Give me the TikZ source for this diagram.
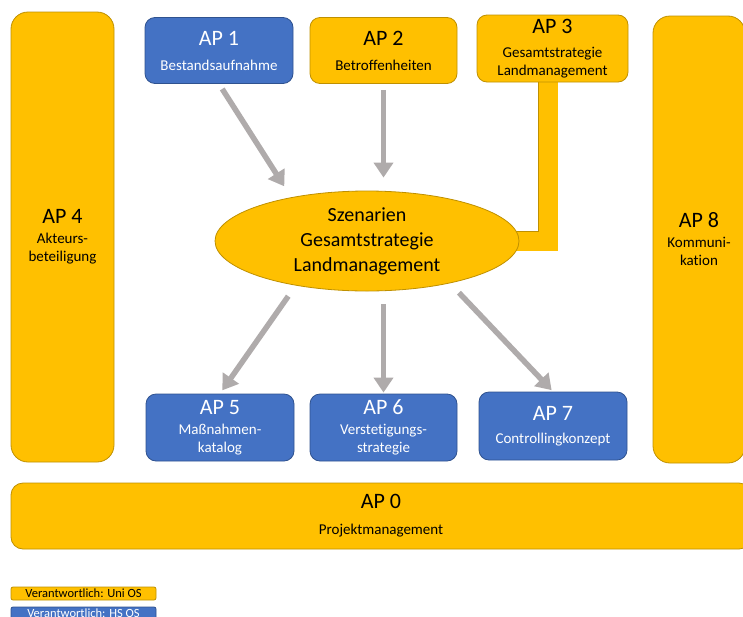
\documentclass[tikz,border=0pt]{standalone}
\usepackage{fontspec}
\setmainfont{Carlito}[Ligatures=NoCommon]
\usetikzlibrary{arrows.meta,shapes.geometric,backgrounds}
\definecolor{apgelb}{HTML}{FFC000}
\definecolor{apgelbrand}{HTML}{BF9000}
\definecolor{apblau}{HTML}{4472C4}
\definecolor{apblaurand}{HTML}{2F528F}
\definecolor{pfeilgrau}{HTML}{AFABAB}
\newcommand\apgross{\fontsize{22}{26}\selectfont}
\newcommand\apklein{\fontsize{15}{18}\selectfont}
\tikzset{
	ap/.style={rectangle, rounded corners=10pt, line width=0.8pt, align=center, inner sep=0pt, font=\apklein},
	uni/.style={ap, fill=apgelb, draw=apgelbrand, text=black},
	hs/.style={ap, fill=apblau, draw=apblaurand, text=white},
	pfeil/.style={draw=pfeilgrau, line width=5.5pt, -{Triangle[length=15pt,width=19pt]}},
}

\begin{document}
\begin{tikzpicture}[x=1pt,y=-1pt]
		%%%%% START %%%%%
		\useasboundingbox (0,0) rectangle (743,616);
		\clip (0,0) rectangle (743,616);
		
		% obere Reihe
		\node[hs, minimum width=148pt, minimum height=66pt] (ap1) at (219,50.5) {{\apgross AP 1}\\[7pt]Bestandsaufnahme};
		\node[uni, minimum width=147pt, minimum height=66pt] (ap2) at (383.5,50.5) {{\apgross AP 2}\\[7pt]Betroffenheiten};
		\node[uni, minimum width=151pt, minimum height=67pt] (ap3) at (552.5,48.5) {{\apgross AP 3}\\[6pt]Gesamtstrategie\\Landmanagement};
		
		% seitliche Saeulen
		\node[uni, rounded corners=17pt, minimum width=103pt, minimum height=450pt] (ap4) at (62.5,237) {{\apgross AP 4}\\[2pt]Akteurs-\\beteiligung};
		\node[uni, rounded corners=17pt, minimum width=92pt, minimum height=447pt] (ap8) at (699,239.5) {{\apgross AP 8}\\[2pt]Kommuni-\\kation};
		
		% Mitte
		\node[ellipse, fill=apgelb, draw=apgelbrand, line width=0.8pt, minimum width=304pt, minimum height=100pt, inner sep=0pt, align=center, font=\fontsize{20}{25}\selectfont] (sz) at (367,241) {Szenarien\\Gesamtstrategie\\Landmanagement};
		
		% untere Reihe
		\node[hs, minimum width=148pt, minimum height=67pt] (ap5) at (220,427.5) {{\apgross AP 5}\\[2pt]Ma\ss nahmen-\\katalog};
		\node[hs, minimum width=147pt, minimum height=67pt] (ap6) at (383.5,427.5) {{\apgross AP 6}\\[2pt]Verstetigungs-\\strategie};
		\node[hs, minimum width=148pt, minimum height=68pt] (ap7) at (553,426) {{\apgross AP 7}\\[5pt]Controllingkonzept};
		
		\node[uni, rounded corners=12pt, minimum width=740pt, minimum height=66pt] (ap0) at (381,516) {{\apgross AP 0}\\[8pt]Projektmanagement};
		
		% Legende
		\node[uni, rounded corners=2pt, minimum width=145pt, minimum height=13pt, font=\fontsize{12.5}{13}\selectfont] (leguni) at (83.5,593.5) {Verantwortlich: Uni OS};
		\node[hs, rounded corners=2pt, minimum width=145pt, minimum height=13pt, font=\fontsize{12.5}{13}\selectfont] (leghs) at (83.5,613.5) {Verantwortlich: HS OS};
		
		% AP 3 -> Szenarien
		\begin{scope}[on background layer]
		\draw[double=apgelb, double distance=19pt, draw=apgelbrand, line width=0.8pt] ([xshift=-4.5pt]ap3.center) |- (sz.center);
		\end{scope}
		
		% Pfeile
		\draw[pfeil, shorten <=6pt, shorten >=13pt] (ap1.south) -- (sz.150);
		\draw[pfeil, shorten <=6pt, shorten >=13pt] (ap2.south) -- (ap2.south |- sz.north);
		\draw[pfeil, shorten <=13pt, shorten >=4pt] (sz.212) -- (ap5.north);
		\draw[pfeil, shorten <=13pt, shorten >=1pt] (ap6.north |- sz.south) -- (ap6.north);
		\draw[pfeil, shorten <=13pt, shorten >=2pt] (sz.333) -- (ap7.north);
		
		%%%%% END %%%%%
\end{tikzpicture}
\end{document}
